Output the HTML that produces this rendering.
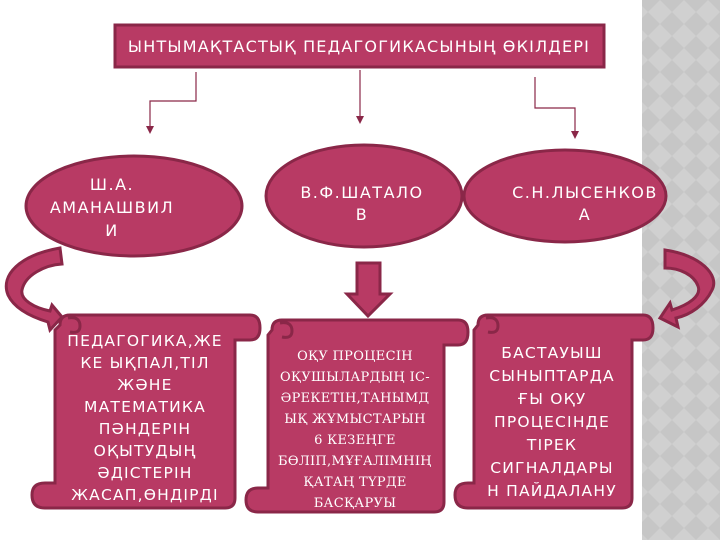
<!DOCTYPE html>
<html><head><meta charset="utf-8"><style>
html,body{margin:0;padding:0;background:#fff;}
svg{display:block;}
text{font-family:"DejaVu Sans","Liberation Sans",sans-serif;fill:#fff;}
.serif{font-family:"DejaVu Serif","Liberation Serif",serif;}
</style></head><body>
<svg width="720" height="540" viewBox="0 0 720 540" xmlns="http://www.w3.org/2000/svg">
<defs>
<pattern id="chk" width="24" height="24" patternUnits="userSpaceOnUse">
<rect width="24" height="24" fill="#c6c6c6"/>
<path d="M12 0 L24 12 L12 24 L0 12 Z" fill="#d0d0d0"/>
</pattern>
</defs>
<rect x="642" y="0" width="78" height="540" fill="url(#chk)"/>
<g stroke="#8a2748" stroke-width="3" fill="#b83a64">
<rect x="115" y="25" width="489" height="42"/>
<ellipse cx="134" cy="206" rx="108" ry="50"/>
<ellipse cx="364" cy="196" rx="98" ry="51"/>
<ellipse cx="565" cy="196" rx="101" ry="46"/>
<path d="M357 263 H380 V294 H390 L368 316 L347 294 H357 Z"/>
<path d="M60 248 C 20 255 0 275 8 295 C 15 310 35 318 48 322 L50 330 L62 317 L52 305 L50 311 C 35 308 20 300 22 290 C 25 275 45 265 62 264 Z"/>
<path d="M665 250 C 700 255 720 275 712 290 C 705 305 690 315 676 318 L678 327 L660 318 L670 303 L672 310 C 688 305 702 296 698 286 C 694 275 680 268 665 268 Z"/>
<path d="M60 325 Q60 315 70 315 H250 Q260 315 260 328 Q260 340 250 340 H235 V498 Q235 508 225 508 H45 Q32 508 32 495 Q32 483 45 483 H55 V330 Z"/>
<path d="M68 318 Q80 316 80 326 Q80 334 70 332" fill="none"/>
<path d="M272 330 Q272 320 282 320 H458 Q468 320 468 332 Q468 345 458 345 H444 V502 Q444 512 434 512 H258 Q246 512 246 500 Q246 488 258 488 H268 V335 Z"/>
<path d="M280 323 Q292 321 292 331 Q292 339 282 337" fill="none"/>
<path d="M478 325 Q478 315 488 315 H643 Q653 315 653 328 Q653 340 643 340 H632 V498 Q632 508 622 508 H468 Q455 508 455 495 Q455 483 468 483 H474 V330 Z"/>
<path d="M486 318 Q498 316 498 326 Q498 334 488 332" fill="none"/>
</g>
<g stroke="#8a2748" stroke-width="1.2" fill="none">
<path d="M196 72 V101 H150 V128"/>
<path d="M360 70 V118"/>
<path d="M535 77 V108 H575 V133"/>
</g>
<g fill="#8a2748">
<path d="M146 126 L154 126 L150 134 Z"/>
<path d="M356 116 L364 116 L360 124 Z"/>
<path d="M571 131 L579 131 L575 139 Z"/>
</g>
<text x="359" y="52" font-size="16" letter-spacing="1.2" text-anchor="middle">ЫНТЫМАҚТАСТЫҚ ПЕДАГОГИКАСЫНЫҢ ӨКІЛДЕРІ</text>
<g font-size="16" letter-spacing="1.5" text-anchor="middle">
<text x="112" y="190">Ш.А.</text>
<text x="112" y="213">АМАНАШВИЛ</text>
<text x="112" y="236">И</text>
<text x="362" y="198">В.Ф.ШАТАЛО</text>
<text x="362" y="220">В</text>
<text x="585" y="198">С.Н.ЛЫСЕНКОВ</text>
<text x="585" y="220">А</text>
</g>
<g font-size="15.5" letter-spacing="1.2" text-anchor="middle">
<text x="145" y="346">ПЕДАГОГИКА,ЖЕ</text>
<text x="145" y="368">КЕ ЫҚПАЛ,ТІЛ</text>
<text x="145" y="390">ЖӘНЕ</text>
<text x="145" y="412">МАТЕМАТИКА</text>
<text x="145" y="434">ПӘНДЕРІН</text>
<text x="145" y="456">ОҚЫТУДЫҢ</text>
<text x="145" y="478">ӘДІСТЕРІН</text>
<text x="145" y="500">ЖАСАП,ӨНДІРДІ</text>
<text x="552" y="358">БАСТАУЫШ</text>
<text x="552" y="381">СЫНЫПТАРДА</text>
<text x="552" y="404">ҒЫ ОҚУ</text>
<text x="552" y="427">ПРОЦЕСІНДЕ</text>
<text x="552" y="450">ТІРЕК</text>
<text x="552" y="473">СИГНАЛДАРЫ</text>
<text x="552" y="496">Н ПАЙДАЛАНУ</text>
</g>
<g font-size="13" letter-spacing="0.3" text-anchor="middle">
<text x="355" y="360" class="serif">ОҚУ ПРОЦЕСІН</text>
<text x="355" y="381" class="serif">ОҚУШЫЛАРДЫҢ ІС-</text>
<text x="355" y="402" class="serif">ӘРЕКЕТІН,ТАНЫМД</text>
<text x="355" y="423" class="serif">ЫҚ ЖҰМЫСТАРЫН</text>
<text x="355" y="444" class="serif">6 КЕЗЕҢГЕ</text>
<text x="355" y="465" class="serif">БӨЛІП,МҰҒАЛІМНІҢ</text>
<text x="355" y="486" class="serif">ҚАТАҢ ТҮРДЕ</text>
<text x="355" y="507" class="serif">БАСҚАРУЫ</text>
</g>
</svg>
</body></html>
